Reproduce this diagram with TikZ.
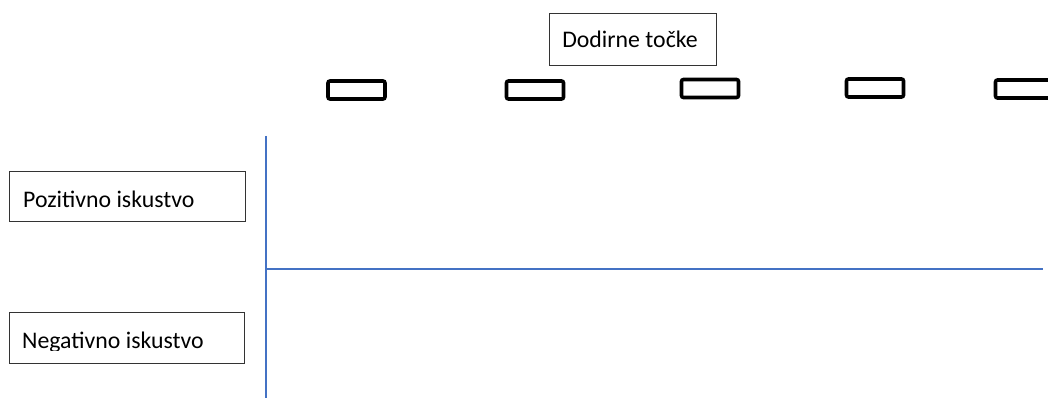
\documentclass[tikz,border=0pt]{standalone}
\usepackage{fontspec}
\setmainfont{Carlito}
\begin{document}
\begin{tikzpicture}[x=1pt,y=-1pt,
  lbox/.style={draw=black!80,line width=1pt,fill=white},
  tp/.style={draw=black,line width=3.6pt,rounded corners=2pt,minimum width=57pt,minimum height=18pt,inner sep=0pt},
  axis/.style={draw={rgb,255:red,68;green,114;blue,196},line width=1.6pt},
  lbl/.style={font=\fontsize{23.8}{28}\selectfont,anchor=base west,inner sep=0pt}]
\useasboundingbox (0,0) rectangle (1048,398);
\clip (0,0) rectangle (1048,398);
% title box
\draw[lbox] (549.5,13.5) rectangle (716.5,65.5);
\node[lbl,anchor=base] (title) at (630,48) {Dodirne točke};
% touch points
\node[tp] (t1) at (356.5,90) {};
\node[tp] (t2) at (535,90) {};
\node[tp] (t3) at (710,88.5) {};
\node[tp] (t4) at (875,88) {};
\node[tp] (t5) at (1024,89) {};
% side boxes
\draw[lbox] (9.5,171.5) rectangle (245.5,221.5);
\node[lbl] (poz) at (23,207) {Pozitivno iskustvo};
\draw[lbox] (9.5,312.5) rectangle (244.5,363.5);
\begin{scope}
\clip (10,313) rectangle (244,350);
\node[lbl] (neg) at (22,348) {Negativno iskustvo};
\end{scope}
% axes
\coordinate (vtop) at (266,136);
\coordinate (vbot) at (266,399);
\coordinate (hleft) at (266,269);
\coordinate (hright) at (1043,269);
\draw[axis] (vtop) -- (vbot);
\draw[axis] (hleft) -- (hright);
\end{tikzpicture}
\end{document}
